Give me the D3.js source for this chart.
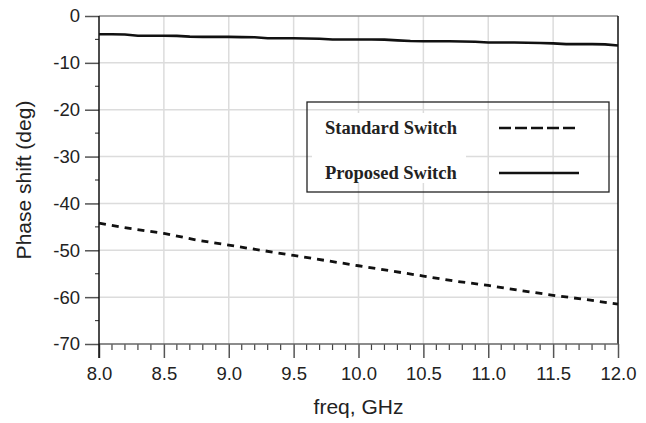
<!DOCTYPE html>
<html>
<head>
<meta charset="utf-8">
<script src="https://cdn.jsdelivr.net/npm/d3@7"></script>
<style>
  body { margin: 0; background: #fff; }
  svg { display: block; }
</style>
</head>
<body>
<div id="body"></div>
<script>
// Phase shift vs frequency, two switches

var freqProposed = [8.0, 8.1, 8.2, 8.3, 8.4, 8.5, 8.6, 8.7, 8.8, 8.9, 9.0, 9.1, 9.2, 9.3, 9.4, 9.5, 9.6, 9.7, 9.8, 9.9,
  10.0, 10.1, 10.2, 10.3, 10.4, 10.5, 10.6, 10.7, 10.8, 10.9, 11.0, 11.1, 11.2, 11.3, 11.4, 11.5, 11.6, 11.7, 11.8, 11.9, 12.0];
var phaseProposed = [-3.9, -3.9, -3.95, -4.2, -4.2, -4.2, -4.25, -4.4, -4.45, -4.45, -4.45, -4.5, -4.55, -4.75, -4.75, -4.75, -4.8, -4.85, -5.0, -5.0,
  -5.0, -5.0, -5.05, -5.2, -5.35, -5.4, -5.4, -5.4, -5.45, -5.5, -5.65, -5.65, -5.65, -5.7, -5.75, -5.85, -6.0, -6.0, -6.0, -6.05, -6.3];

var freqStandard = [8.0, 8.25, 8.5, 8.75, 9.0, 9.25, 9.5, 9.75, 10.0, 10.25, 10.5, 10.75, 11.0, 11.25, 11.5, 11.75, 12.0];
var phaseStandard = [-44.2, -45.4, -46.4, -47.8, -48.9, -50.0, -51.1, -52.2, -53.3, -54.4, -55.5, -56.6, -57.5, -58.6, -59.6, -60.5, -61.5];

var xTicks = [8.0, 8.5, 9.0, 9.5, 10.0, 10.5, 11.0, 11.5, 12.0];
var yTicks = [0, -10, -20, -30, -40, -50, -60, -70];
var legendNames = ['Standard Switch', 'Proposed Switch'];

var width = 646, height = 423;
var margin = {top: 16, left: 99, right: 28, bottom: 79};
var w = width - margin.left - margin.right;
var h = height - margin.top - margin.bottom;

var sans = 'Liberation Sans, Arial, Helvetica, sans-serif';

var svg = d3.select('#body')
    .append('svg')
    .attr('width', width)
    .attr('height', height);

var g = svg.append('g')
    .attr('transform', 'translate(' + margin.left + ',' + margin.top + ')');

var x = d3.scaleLinear().domain([8, 12]).range([0, w]);
var y = d3.scaleLinear().domain([-70, 0]).range([h, 0]);

// grid
g.selectAll('.vgrid')
    .data(xTicks.slice(1, -1))
    .enter().append('line')
    .attr('x1', d => x(d)).attr('x2', d => x(d))
    .attr('y1', 0).attr('y2', h)
    .attr('stroke', '#dcdcdc').attr('stroke-width', 1.5);

g.selectAll('.hgrid')
    .data(yTicks.slice(1, -1))
    .enter().append('line')
    .attr('x1', 0).attr('x2', w)
    .attr('y1', d => y(d)).attr('y2', d => y(d))
    .attr('stroke', '#dcdcdc').attr('stroke-width', 1.5);

// white patch behind legend text
g.append('rect')
    .attr('x', 213).attr('y', 97)
    .attr('width', 154).attr('height', 70)
    .attr('fill', '#fff');

// top + right border
g.append('line')
    .attr('x1', 0).attr('x2', w).attr('y1', 0).attr('y2', 0)
    .attr('stroke', '#888').attr('stroke-width', 1.5);
g.append('line')
    .attr('x1', w).attr('x2', w).attr('y1', 0).attr('y2', h)
    .attr('stroke', '#111').attr('stroke-width', 1.5);

// y axis
var yAxis = d3.axisLeft(y)
    .tickValues(yTicks)
    .tickSize(14)
    .tickPadding(5)
    .tickFormat(d => String(d));
var ya = g.append('g').call(yAxis);
ya.select('.domain').remove();
ya.selectAll('.tick line').attr('stroke', '#555').attr('stroke-width', 1.5);
ya.selectAll('text')
    .attr('font-family', sans)
    .attr('font-size', '18.5px')
    .attr('fill', '#222');

var yMinor = d3.range(-65, 0, 10);
g.selectAll('.ymin')
    .data(yMinor)
    .enter().append('line')
    .attr('x1', -4).attr('x2', 0)
    .attr('y1', d => y(d)).attr('y2', d => y(d))
    .attr('stroke', '#444').attr('stroke-width', 1.2);

// x axis
var xAxis = d3.axisBottom(x)
    .tickValues(xTicks)
    .tickSize(14)
    .tickPadding(9)
    .tickFormat(d3.format('.1f'));
var xa = g.append('g')
    .attr('transform', 'translate(0,' + h + ')')
    .call(xAxis);
xa.select('.domain').remove();
xa.selectAll('.tick line').attr('stroke', '#555').attr('stroke-width', 1.5);
xa.selectAll('text')
    .attr('font-family', sans)
    .attr('font-size', '18.5px')
    .attr('fill', '#222');

var xMinor = d3.range(8.1, 12, 0.1).filter(d => Math.abs(d * 2 - Math.round(d * 2)) > 0.01);
g.selectAll('.xmin')
    .data(xMinor)
    .enter().append('line')
    .attr('x1', d => x(d)).attr('x2', d => x(d))
    .attr('y1', h).attr('y2', h + 6)
    .attr('stroke', '#444').attr('stroke-width', 1.2);

g.append('line')
    .attr('x1', 0).attr('x2', w).attr('y1', h).attr('y2', h)
    .attr('stroke', '#666').attr('stroke-width', 1.5);
g.append('line')
    .attr('x1', 0).attr('x2', 0).attr('y1', 0).attr('y2', h + 14)
    .attr('stroke', '#111').attr('stroke-width', 1.5);

// lines
var line = d3.line()
    .x(d => x(d[0]))
    .y(d => y(d[1]));

g.append('path')
    .datum(d3.zip(freqStandard, phaseStandard))
    .attr('d', line)
    .attr('fill', 'none')
    .attr('stroke', '#111')
    .attr('stroke-width', 2.8)
    .attr('stroke-dasharray', '7,6');

g.append('path')
    .datum(d3.zip(freqProposed, phaseProposed))
    .attr('d', line)
    .attr('fill', 'none')
    .attr('stroke', '#111')
    .attr('stroke-width', 2.6);

// legend
var lg = g.append('g').attr('transform', 'translate(208,86)');
lg.append('rect')
    .attr('width', 302).attr('height', 90)
    .attr('fill', 'none')
    .attr('stroke', '#222').attr('stroke-width', 1.3);

var rows = lg.selectAll('.row')
    .data(legendNames)
    .enter().append('g')
    .attr('transform', (d, i) => 'translate(0,' + (32 + i * 45) + ')');

rows.append('text')
    .attr('x', 18).attr('y', 0)
    .attr('font-family', 'Liberation Serif, Times New Roman, serif')
    .attr('font-weight', 'bold')
    .attr('font-size', '18.5px')
    .attr('fill', '#222')
    .text(d => d);

rows.append('line')
    .attr('x1', 192).attr('x2', 272)
    .attr('y1', -6).attr('y2', -6)
    .attr('stroke', '#111')
    .attr('stroke-width', 2.6)
    .attr('stroke-dasharray', (d, i) => i === 0 ? '12,4' : null);

// axis titles
svg.append('text')
    .attr('x', margin.left + w / 2)
    .attr('y', 414)
    .attr('text-anchor', 'middle')
    .attr('font-family', sans)
    .attr('font-size', '21px')
    .attr('fill', '#222')
    .text('freq, GHz');

svg.append('text')
    .attr('transform', 'translate(31,' + (margin.top + h / 2) + ') rotate(-90)')
    .attr('text-anchor', 'middle')
    .attr('font-family', sans)
    .attr('font-size', '21px')
    .attr('fill', '#222')
    .text('Phase shift (deg)');
</script>
</body>
</html>
